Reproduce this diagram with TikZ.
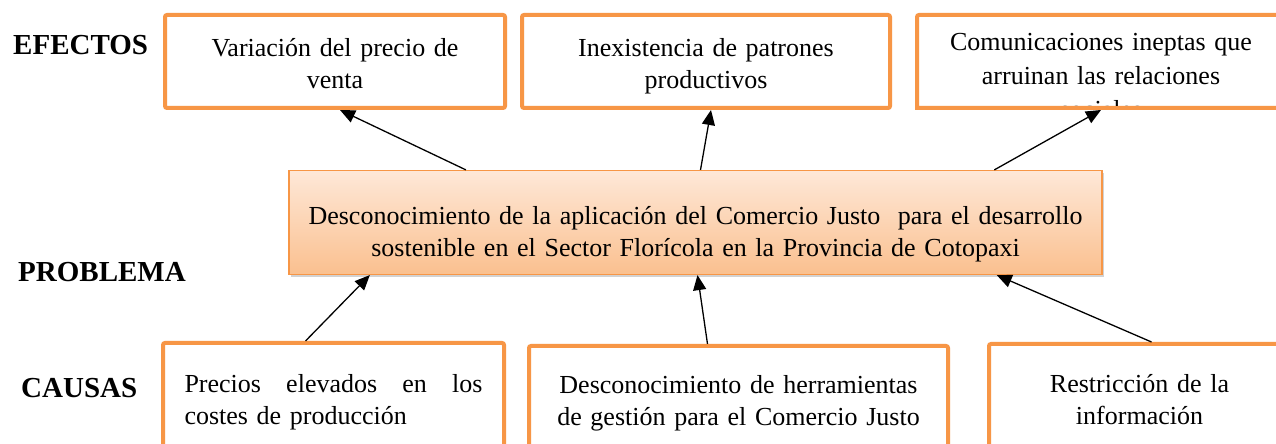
\documentclass[tikz,border=0pt]{standalone}
\usepackage{fontspec}
\setmainfont{Liberation Serif}
\usepackage{tikz}
\usetikzlibrary{positioning, arrows.meta, shadows, calc}
\definecolor{naranja}{HTML}{F79646}
\definecolor{durazno}{HTML}{FEE8D8}
\definecolor{melocoton}{HTML}{FAC08F}

\begin{document}
\begin{tikzpicture}[
  x=1pt, y=1pt,
  box/.style     ={rectangle, draw=naranja, line width=4pt, rounded corners=2pt,
                   inner sep=0pt, align=center, minimum height=93pt,
                   font=\fontsize{26}{32}\selectfont,
                   text height=24pt, text depth=34pt},
  causa/.style   ={box, text height=17pt, text depth=31pt},
  problem/.style ={rectangle, draw=naranja, line width=1.2pt,
                   top color=durazno, bottom color=melocoton,
                   drop shadow={shadow xshift=2pt, shadow yshift=-3pt, opacity=0.35},
                   inner sep=0pt, align=center, text width=790pt,
                   minimum width=813pt, minimum height=104pt,
                   font=\fontsize{26}{32}\selectfont,
                   text height=42pt, text depth=37pt},
  tag/.style     ={anchor=base west, inner sep=0pt,
                   font=\bfseries\fontsize{29}{34}\selectfont},
  conector/.style={->, line width=1.3pt},
  >={Triangle[length=15pt, width=13pt]}
]
\useasboundingbox (0,0) rectangle (1276,444);
\fill[white] (0,0) rectangle (1276,444);

%--- Row labels -------------------------------------------------------------
\node[tag] (efectos)  at (13,389) {EFECTOS};
\node[tag] (problemaT) at (18,162) {PROBLEMA};
\node[tag] (causas)   at (21,46)  {CAUSAS};

%--- Effects ----------------------------------------------------------------
\node[box, minimum width=340pt, text width=320pt] (efecto1) at (335,382.5)
  {Variación del precio de\\ venta};
\node[box, minimum width=368pt, text width=340pt] (efecto2) at (706,382.5)
  {Inexistencia de patrones\\ productivos};
\begin{scope}
  \clip (900,334) rectangle (1300,444);
  \node[box, minimum width=368pt, text width=340pt, text depth=45pt,
        font=\fontsize{26}{34}\selectfont] (efecto3) at (1101,382.5)
    {Comunicaciones ineptas que\\ arruinan las relaciones\\ sociales};
\end{scope}
\draw[naranja, line width=4pt] ([yshift=2pt]efecto3.south west) -- ([yshift=2pt]efecto3.south east);

%--- Main problem -----------------------------------------------------------
\node[problem] (problema) at (695.5,221.5)
  {Desconocimiento de la aplicación del Comercio Justo~ para el desarrollo\\
   sostenible en el Sector Florícola en la Provincia de Cotopaxi};

%--- Causes -----------------------------------------------------------------
\node[causa, minimum width=341pt, minimum height=114pt, text width=298pt, align=left] (causa1) at (333.5,44)
  {\hbox to 298pt{Precios\hfill elevados\hfill en\hfill los}\\ costes de producción};
\node[causa, minimum width=419pt, minimum height=110pt, text width=400pt] (causa2) at (738.5,43)
  {Desconocimiento de herramientas\\ de gestión para el Comercio Justo};
\node[causa, minimum width=301pt, minimum height=112pt, text width=280pt] (causa3) at (1139.5,44)
  {Restricción de la\\ información};

%--- connection -------------------------------------------------------------
\draw[conector] ($(problema.north west)!0.218!(problema.north east)$) -- ([xshift=5pt]efecto1.south);
\draw[conector] ([xshift=5pt]problema.north) -- ([xshift=5pt]efecto2.south);
\draw[conector] ($(problema.north west)!0.867!(problema.north east)$) -- (efecto3.south);
\draw[conector] ([xshift=-28pt]causa1.north) -- ($(problema.south west)!0.1!(problema.south east)$);
\draw[conector] ([xshift=-31pt]causa2.north) -- ([xshift=2pt]problema.south);
\draw[conector] ([xshift=12pt]causa3.north) -- ($(problema.south west)!0.87!(problema.south east)$);
\end{tikzpicture}
\end{document}
